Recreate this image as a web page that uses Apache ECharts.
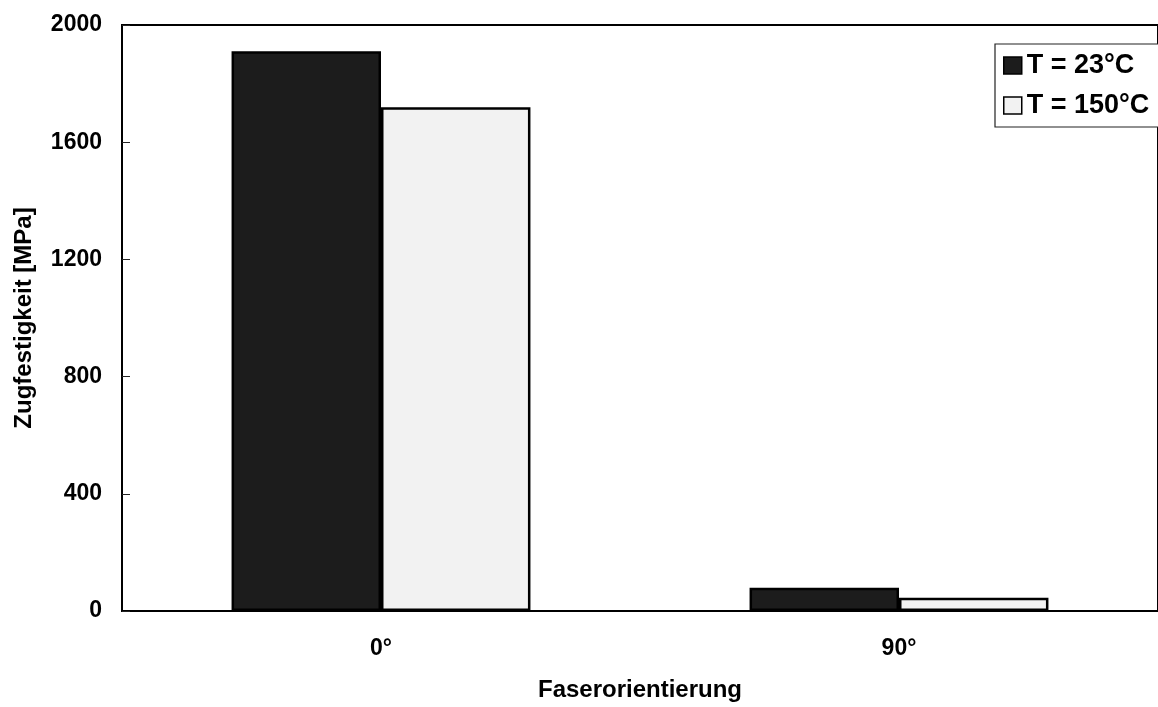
<!DOCTYPE html>
<html>
<head>
<meta charset="utf-8">
<script src="https://cdn.jsdelivr.net/npm/echarts@6/dist/echarts.min.js"></script>
<style>
  html, body { margin: 0; padding: 0; background: #fff; }
  #chart { width: 1158px; height: 707px; }
</style>
</head>
<body>
<div id="chart"></div>
<script>
// Tensile strength by fibre orientation at two test temperatures
const categories = ['0°', '90°'];
const seriesNames = ['T = 23°C', 'T = 150°C'];
const strength23 = [1910, 79];
const strength150 = [1719, 45];
const yTicks = [0, 400, 800, 1200, 1600, 2000];

const FONT = '"Liberation Sans", Arial, sans-serif';
const chart = echarts.init(document.getElementById('chart'), null, { renderer: 'canvas' });

chart.setOption({
  animation: false,
  backgroundColor: '#ffffff',
  textStyle: { fontFamily: FONT },
  grid: {
    left: 122, right: -4, top: 25, bottom: 94,
    show: true, borderColor: '#000', borderWidth: 2, backgroundColor: 'transparent'
  },
  legend: {
    left: 995, top: 44,
    orient: 'vertical',
    padding: [8, 60, 8, 8],
    itemGap: 13,
    itemWidth: 18, itemHeight: 17,
    backgroundColor: '#fff',
    borderColor: '#222', borderWidth: 1.2,
    borderRadius: 0,
    icon: 'rect',
    itemStyle: { borderColor: '#000', borderWidth: 1.5 },
    textStyle: { fontFamily: FONT, fontWeight: 'bold', fontSize: 27, color: '#000', lineHeight: 27 },
    data: seriesNames
  },
  xAxis: {
    type: 'category',
    data: categories,
    name: 'Faserorientierung',
    nameLocation: 'middle',
    nameGap: 67,
    nameTextStyle: { fontFamily: FONT, fontWeight: 'bold', fontSize: 24, color: '#000' },
    axisLine: { lineStyle: { color: '#000', width: 2 } },
    axisTick: { show: false },
    axisLabel: { margin: 26, fontFamily: FONT, fontWeight: 'bold', fontSize: 23, color: '#000' },
    splitLine: { show: false }
  },
  yAxis: {
    type: 'value',
    min: yTicks[0], max: yTicks[yTicks.length - 1], interval: yTicks[1] - yTicks[0],
    name: 'Zugfestigkeit [MPa]',
    nameLocation: 'middle',
    nameGap: 86,
    nameTextStyle: { fontFamily: FONT, fontWeight: 'bold', fontSize: 24, color: '#000' },
    axisLine: { show: true, lineStyle: { color: '#000', width: 2 } },
    axisTick: { show: true, inside: true, length: 8, lineStyle: { color: '#222', width: 1 } },
    axisLabel: {
      margin: 20, fontFamily: FONT, fontWeight: 'bold', fontSize: 23, color: '#000',
      formatter: v => String(v)
    },
    splitLine: { show: false }
  },
  series: [
    {
      name: seriesNames[0], type: 'bar', data: strength23,
      barGap: '0%', barCategoryGap: '42.3%',
      itemStyle: { color: '#1c1c1c', borderColor: '#000', borderWidth: 2.5 }
    },
    {
      name: seriesNames[1], type: 'bar', data: strength150,
      barGap: '0%', barCategoryGap: '42.3%',
      itemStyle: { color: '#f2f2f2', borderColor: '#000', borderWidth: 2.5 }
    }
  ]
});
</script>
</body>
</html>
